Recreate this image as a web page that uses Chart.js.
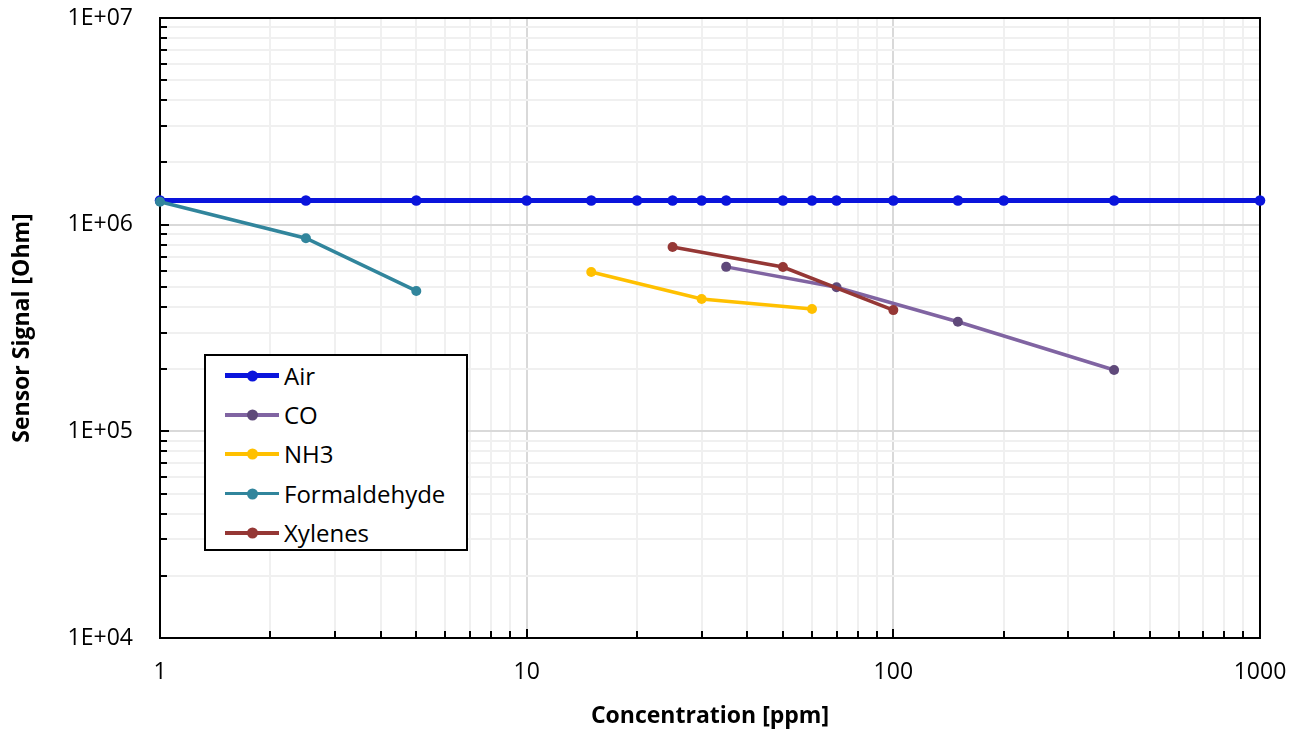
<!DOCTYPE html>
<html>
<head>
<meta charset="utf-8">
<script src="https://cdn.jsdelivr.net/npm/chart.js@4.4.1/dist/chart.umd.min.js"></script>
<style>
  html, body { margin: 0; padding: 0; background: #fff; }
  #wrap { position: relative; width: 1296px; height: 734px; }
  #legend {
    position: absolute; left: 204px; top: 354px; width: 260px; height: 193px;
    border: 2px solid #000; background: #fff;
    font-family: "Open Sans", sans-serif; font-size: 24px; color: #000;
  }
  .item { position: relative; height: 39.3px; }
  .line { position: absolute; left: 19px; width: 54px; top: 50%; }
  .dot { position: absolute; left: 22px; width: 11px; height: 11px; border-radius: 50%; top: 50%; transform: translateY(-50%); }
  .label { position: absolute; left: 78px; top: 50%; transform: translateY(-50%); line-height: 1; }
</style>
</head>
<body>
<div id="wrap">
  <canvas id="myChart" width="1296" height="734"></canvas>
  <div id="legend"></div>
</div>
<script>
// data
var airConc = [1, 2.5, 5, 10, 15, 20, 25, 30, 35, 50, 60, 70, 100, 150, 200, 400, 1000];
var airSignal = [1.31e6, 1.31e6, 1.31e6, 1.31e6, 1.31e6, 1.31e6, 1.31e6, 1.31e6, 1.31e6, 1.31e6, 1.31e6, 1.31e6, 1.31e6, 1.31e6, 1.31e6, 1.31e6, 1.31e6];
var coConc = [35, 70, 150, 400];
var coSignal = [6.25e5, 4.98e5, 3.39e5, 1.98e5];
var nh3Conc = [15, 30, 60];
var nh3Signal = [5.9e5, 4.37e5, 3.91e5];
var formConc = [1, 2.5, 5];
var formSignal = [1.29e6, 8.6e5, 4.78e5];
var xylConc = [25, 50, 100];
var xylSignal = [7.8e5, 6.24e5, 3.86e5];

// axis ticks
var xMajorTicks = [1, 10, 100, 1000];
var xTickLabels = ['1', '10', '100', '1000'];
var yMajorTicks = [1e4, 1e5, 1e6, 1e7];
var yTickLabels = ['1E+04', '1E+05', '1E+06', '1E+07'];
var minorSteps = [2, 3, 4, 5, 6, 7, 8, 9];

function pts(xs, ys) {
    return xs.map((v, i) => ({ x: v, y: ys[i] }));
}

function logTicks(majors) {
    var out = [];
    majors.forEach((m, i) => {
        out.push(m);
        if (i < majors.length - 1) minorSteps.forEach(s => out.push(s * m));
    });
    return out;
}

function serie(label, xs, ys, line, dot, width, radius, order) {
    return {
        label: label,
        data: pts(xs, ys),
        borderColor: line,
        backgroundColor: dot,
        pointBackgroundColor: dot,
        pointBorderColor: dot,
        borderWidth: width,
        pointRadius: radius,
        pointBorderWidth: 0,
        tension: 0,
        clip: false,
        order: order
    };
}

var datasets = [
    serie('Air', airConc, airSignal, '#0A14DC', '#0A14DC', 5, 5.3, 5),
    serie('CO', coConc, coSignal, '#8064A2', '#5F497A', 3.5, 5, 4),
    serie('NH3', nh3Conc, nh3Signal, '#FFC000', '#FFC000', 3.5, 5, 3),
    serie('Formaldehyde', formConc, formSignal, '#31859C', '#31859C', 3.5, 5, 2),
    serie('Xylenes', xylConc, xylSignal, '#953735', '#953735', 3.5, 5, 1)
];

// plot frame and inside tick marks
const frame = {
    id: 'frame',
    beforeDatasetsDraw(chart) {
        const { ctx, chartArea: a, scales: { x, y } } = chart;
        ctx.save();
        ctx.strokeStyle = '#000';
        ctx.lineWidth = 2;
        ctx.beginPath();
        x.ticks.forEach(t => {
            const px = Math.round(x.getPixelForValue(t.value));
            const len = xMajorTicks.includes(t.value) ? 9 : 7;
            ctx.moveTo(px, a.bottom);
            ctx.lineTo(px, a.bottom - len);
        });
        y.ticks.forEach(t => {
            const py = Math.round(y.getPixelForValue(t.value));
            const len = yMajorTicks.includes(t.value) ? 9 : 7;
            ctx.moveTo(a.left, py);
            ctx.lineTo(a.left + len, py);
        });
        ctx.stroke();
        ctx.strokeRect(a.left, a.top, a.right - a.left, a.bottom - a.top);
        ctx.restore();
    }
};

function gridColor(majors) {
    return c => (c.tick && majors.includes(c.tick.value)) ? '#D9D9D9' : '#F0F0F0';
}

const ctx = document.getElementById('myChart');
new Chart(ctx, {
    type: 'line',
    data: { datasets: datasets },
    options: {
        responsive: false,
        animation: false,
        devicePixelRatio: 1,
        layout: { padding: { top: 18, right: 36, left: 0, bottom: 0 } },
        plugins: { legend: { display: false }, tooltip: { enabled: false } },
        scales: {
            x: {
                type: 'logarithmic',
                min: 1,
                max: 1000,
                afterFit: s => { s.height = 96; s.paddingLeft = 0; s.paddingRight = 0; },
                afterBuildTicks: s => { s.ticks = logTicks(xMajorTicks).map(v => ({ value: v })); },
                grid: { color: gridColor(xMajorTicks), lineWidth: 2, drawTicks: false },
                border: { display: false },
                ticks: {
                    autoSkip: false,
                    maxRotation: 0,
                    padding: 21,
                    color: '#000',
                    font: { family: 'Open Sans', size: 23 },
                    callback: v => {
                        const i = xMajorTicks.indexOf(v);
                        return i >= 0 ? xTickLabels[i] : '';
                    }
                },
                title: {
                    display: true,
                    text: 'Concentration [ppm]',
                    color: '#000',
                    font: { family: 'Open Sans', size: 23, weight: 'bold' },
                    padding: { top: 0, bottom: 4 }
                }
            },
            y: {
                type: 'logarithmic',
                min: 1e4,
                max: 1e7,
                afterFit: s => { s.width = 160; s.paddingTop = 0; s.paddingBottom = 0; },
                afterBuildTicks: s => { s.ticks = logTicks(yMajorTicks).map(v => ({ value: v })); },
                grid: { color: gridColor(yMajorTicks), lineWidth: 2, drawTicks: false },
                border: { display: false },
                ticks: {
                    autoSkip: false,
                    padding: 27,
                    color: '#000',
                    font: { family: 'Open Sans', size: 23 },
                    callback: v => {
                        const i = yMajorTicks.indexOf(v);
                        return i >= 0 ? yTickLabels[i] : '';
                    }
                },
                title: {
                    display: true,
                    text: 'Sensor Signal [Ohm]',
                    color: '#000',
                    font: { family: 'Open Sans', size: 23, weight: 'bold' },
                    padding: { top: 9, bottom: 0 }
                }
            }
        }
    },
    plugins: [frame]
});

// legend built from the datasets
var legend = document.getElementById('legend');
datasets.forEach(ds => {
    var item = document.createElement('div');
    item.className = 'item';
    var line = document.createElement('div');
    line.className = 'line';
    line.style.height = ds.borderWidth + 'px';
    line.style.marginTop = (-ds.borderWidth / 2) + 'px';
    line.style.background = ds.borderColor;
    var dot = document.createElement('div');
    dot.className = 'dot';
    dot.style.background = ds.pointBackgroundColor;
    line.appendChild(dot);
    var label = document.createElement('span');
    label.className = 'label';
    label.textContent = ds.label;
    item.appendChild(line);
    item.appendChild(label);
    legend.appendChild(item);
});
</script>
</body>
</html>
